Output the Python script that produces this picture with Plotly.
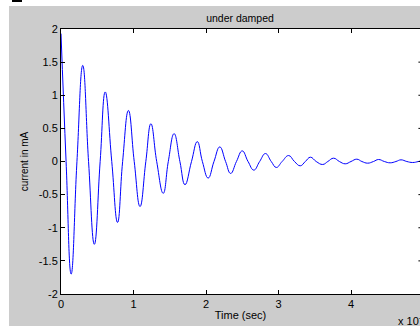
import plotly.graph_objects as go

# extrema of the damped oscillation (time in 1e-3 s, current in mA)
ext_t = [0.0, 0.14, 0.30, 0.46, 0.61, 0.78, 0.93, 1.09, 1.24, 1.41, 1.56, 1.71, 1.88, 2.03,
         2.19, 2.34, 2.50, 2.66, 2.82, 2.97, 3.14, 3.30, 3.44, 3.61, 3.76, 3.92, 4.08, 4.23,
         4.38, 4.54, 4.69, 4.85, 5.0]
ext_v = [1.93, -1.70, 1.45, -1.25, 1.05, -0.92, 0.77, -0.68, 0.57, -0.48, 0.42, -0.35, 0.30,
         -0.25, 0.22, -0.18, 0.16, -0.13, 0.12, -0.09, 0.09, -0.065, 0.065, -0.045, 0.05,
         -0.035, 0.035, -0.025, 0.03, -0.02, 0.025, -0.015, 0.02]
# zero crossings
zero_t = [0.07, 0.22, 0.38, 0.54, 0.70, 0.85, 1.01, 1.17, 1.32, 1.48, 1.64, 1.80, 1.95, 2.11,
          2.27, 2.42, 2.58, 2.74, 2.90, 3.05, 3.22, 3.37, 3.52, 3.68, 3.84, 4.00, 4.15, 4.31,
          4.46, 4.62, 4.77, 4.93]

x_ticks = [0, 1, 2, 3, 4, 5]
x_tick_text = ["0", "1", "2", "3", "4", "5"]
y_ticks = [-2, -1.5, -1, -0.5, 0, 0.5, 1, 1.5, 2]
y_tick_text = ["-2", "-1.5", "-1", "-0.5", "0", "0.5", "1", "1.5", "2"]

pts = sorted([(t, v) for t, v in zip(ext_t, ext_v)] + [(t, 0.0) for t in zero_t])
xs = [p[0] for p in pts]
ys = [p[1] for p in pts]

FONT = "Liberation Sans, Arial, sans-serif"
GRAY = "#cccccc"

fig = go.Figure()
fig.add_trace(go.Scatter(x=xs, y=ys, mode="lines",
                         line=dict(color="#0000ff", width=1, shape="spline", smoothing=1.3),
                         showlegend=False, hoverinfo="skip"))

X_MAX = (420 - 61) / 72.5

shapes = []
# right-side inward y ticks (spine itself lies just outside the window)
for yv in y_ticks[1:-1]:
    shapes.append(dict(type="line", xref="x", yref="y", x0=4.93, x1=X_MAX, y0=yv, y1=yv,
                       line=dict(color="#000000", width=1)))
# window frame artifacts: white strips at top and left, small black mark
shapes.append(dict(type="rect", xref="paper", yref="paper", x0=-61/359, x1=(420-61)/359,
                   y0=1 + 23/265, y1=1 + 29/265, fillcolor="#ffffff", line=dict(width=0), layer="below"))
shapes.append(dict(type="rect", xref="paper", yref="paper", x0=-61/359, x1=-52/359,
                   y0=-32/265, y1=1 + 29/265, fillcolor="#ffffff", line=dict(width=0), layer="below"))
shapes.append(dict(type="rect", xref="paper", yref="paper", x0=-49/359, x1=-39/359,
                   y0=1 + 27/265, y1=1 + 29/265, fillcolor="#000000", line=dict(width=0)))

fig.update_layout(
    width=420, height=326,
    margin=dict(l=61, r=0, t=29, b=32, pad=0, autoexpand=False),
    paper_bgcolor=GRAY, plot_bgcolor="#ffffff",
    font=dict(family=FONT, size=11, color="#000000"),
    title=dict(text="under damped", x=240 / 420, xanchor="center", y=1 - 18/326,
               yanchor="middle", font=dict(family=FONT, size=10.5, color="#000000")),
    shapes=shapes,
    xaxis=dict(range=[0, X_MAX], tickvals=x_ticks, ticktext=x_tick_text, ticks="inside",
               ticklen=4, tickcolor="#000000", showline=True, linecolor="#000000", linewidth=1,
               mirror="ticks", showgrid=False, zeroline=False, automargin=False,
               title=dict(text="Time (sec)", standoff=2, font=dict(family=FONT, size=11)),
               tickfont=dict(family=FONT, size=11)),
    yaxis=dict(range=[-2, 2], tickvals=y_ticks, ticktext=y_tick_text, ticks="inside",
               ticklen=4, tickcolor="#000000", showline=True, linecolor="#000000", linewidth=1,
               showgrid=False, zeroline=False, automargin=False,
               title=dict(text="current in mA", standoff=8, font=dict(family=FONT, size=10)),
               tickfont=dict(family=FONT, size=11)),
)
fig.add_annotation(text="x 10<sup>-3</sup>", xref="paper", yref="paper",
                   x=(396 - 61) / 359, y=-(320 - 294) / 265, xanchor="left", yanchor="middle",
                   showarrow=False, font=dict(family=FONT, size=11, color="#000000"))

fig.write_html("out.html", config={"displayModeBar": False},
               post_script="document.body.style.margin='0';document.body.style.overflow='hidden';")
